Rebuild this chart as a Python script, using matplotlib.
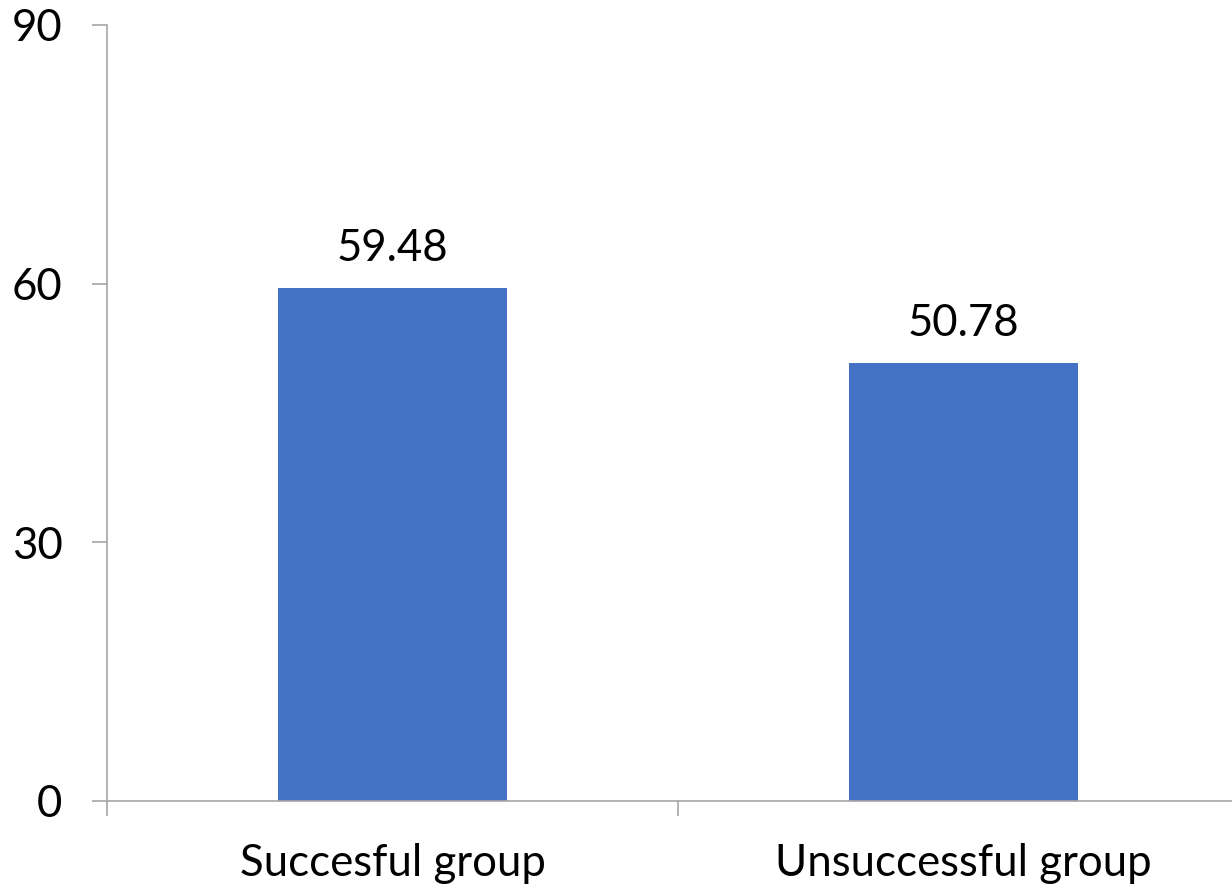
import matplotlib
matplotlib.use("Agg")
import matplotlib.pyplot as plt
from matplotlib.ticker import FixedLocator

groups = ["Succesful group", "Unsuccessful group"]
values = [59.48, 50.78]
yticks = [0, 30, 60, 90]

plt.rcParams["font.family"] = ["Lato", "DejaVu Sans"]

fig = plt.figure(figsize=(12.32, 8.89), dpi=100)
# axes run a little past the right edge of the canvas
ax = fig.add_axes([0.0869, 0.099, 0.927, 0.8729])

x = range(len(groups))
bars = ax.bar(x, values, width=0.4, color="#4472C4", zorder=2)
for b, v in zip(bars, values):
    ax.annotate(f"{v:.2f}", (b.get_x() + b.get_width() / 2, v),
                xytext=(0, 14), textcoords="offset points",
                ha="center", va="bottom", fontsize=31.5)

ax.set_xlim(-0.5, 1.5)
ax.set_ylim(0, 90)
ax.set_yticks(yticks)
ax.set_xticks(list(x))
ax.set_xticklabels(groups)
ax.xaxis.set_minor_locator(FixedLocator([-0.5, 0.5, 1.5]))

for s in ["top", "right"]:
    ax.spines[s].set_visible(False)
for s in ["left", "bottom"]:
    ax.spines[s].set_color("#a6a6a6")
    ax.spines[s].set_linewidth(1.2)

ax.tick_params(axis="y", length=11, width=1.2, color="#a6a6a6",
               pad=21, labelsize=31.5)
ax.tick_params(axis="x", which="major", length=0, pad=30, labelsize=31.5)
ax.tick_params(axis="x", which="minor", length=11, width=1.2, color="#a6a6a6")

fig.savefig("out.png", dpi=100)
